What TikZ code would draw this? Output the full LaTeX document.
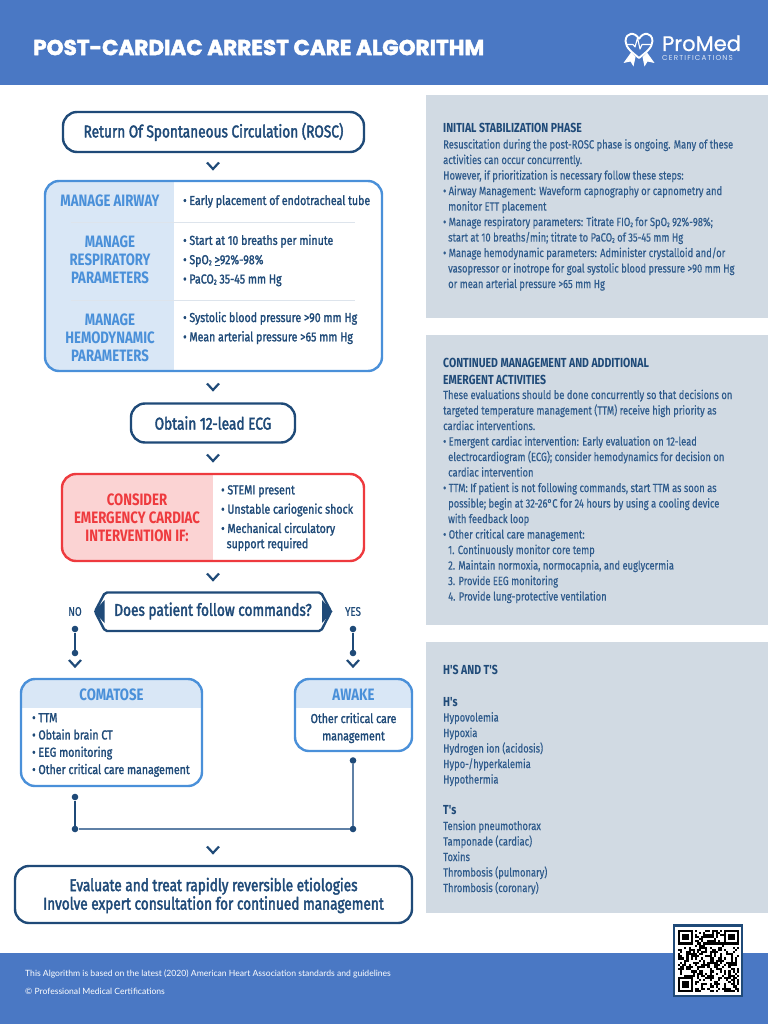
\documentclass[tikz,border=0pt]{standalone}
\usepackage{fontspec}
\setmainfont{Fira Sans}
\newfontfamily\condfam[FakeStretch=0.815,FakeBold=1.6]{Fira Sans}
\newfontfamily\bigfam[FakeStretch=0.8,FakeBold=2.2]{Fira Sans}
\newfontfamily\bodyfam[FakeStretch=0.78,FakeBold=0.4]{Fira Sans}
\newfontfamily\headfam[FakeStretch=0.8]{Fira Sans}
\newfontfamily\titlefam[BoldFeatures={FakeBold=2.2}]{Poppins}
\newfontfamily\logofam[FakeBold=0.8]{Poppins}
\newfontfamily\logols[LetterSpace=16]{Poppins}
\newfontfamily\footfam{Lato}
\definecolor{hdr}{HTML}{4A78C4}
\definecolor{navy}{HTML}{1F4A78}
\definecolor{sky}{HTML}{4A90D9}
\definecolor{skyfill}{HTML}{D9E7F6}
\definecolor{red1}{HTML}{EE3A3E}
\definecolor{redfill}{HTML}{FBD3D3}
\definecolor{panel}{HTML}{D1DAE3}
\definecolor{bodytx}{HTML}{2F5B8C}
\definecolor{divid}{HTML}{DDE4EC}
\definecolor{linkc}{HTML}{5F80A6}
\newcommand{\lowsub}[1]{\raisebox{-0.15ex}{\scalebox{0.55}{#1}}}
\newcommand{\chevat}[3]{\coordinate (#1) at (#2,#3);
  \draw[chevline] ([shift={(-6,-3.5)}]#1) -- ([shift={(0,3)}]#1) -- ([shift={(6,-3.5)}]#1);}
\tikzset{x=1pt,y=-1pt,
  chevline/.style={navy,line width=2.2pt,line join=miter},
  flowbox/.style={draw=navy,line width=2.4pt,fill=white,rounded corners=14pt,inner sep=0pt},
  frame/.style={line width=2.4pt,rounded corners=14pt,inner sep=0pt},
  bigtx/.style={text=navy,inner sep=0pt,align=center,font=\bigfam\fontsize{17.05}{18.5}\selectfont},
  itemtx/.style={text=navy,inner sep=0pt,anchor=west,align=left,font=\condfam\fontsize{13}{19.3}\selectfont},
  itemty/.style={text=navy,inner sep=0pt,anchor=west,align=left,font=\condfam\fontsize{13}{17.3}\selectfont},
  capsky/.style={text=sky,inner sep=0pt,align=center,font=\headfam\bfseries\fontsize{16.5}{18}\selectfont},
  capred/.style={text=red1,inner sep=0pt,align=center,font=\headfam\bfseries\fontsize{16.5}{18}\selectfont},
  ptxt/.style={text=bodytx,inner sep=0pt,anchor=north west,align=left,font=\bodyfam\fontsize{12}{15.5}\selectfont},
  phead/.style={text=navy,inner sep=0pt,anchor=west,align=left,font=\headfam\bfseries\fontsize{13.1}{17}\selectfont},
  dot/.style={circle,fill=navy,inner sep=0pt,minimum size=6.6pt},
  linkline/.style={line width=1.5pt,draw=navy},
  linkpale/.style={line width=1.6pt,draw=linkc},
  ansr/.style={text=navy,inner sep=0pt,font=\bodyfam\fontsize{12.5}{14}\selectfont},
}
\begin{document}
\begin{tikzpicture}
\useasboundingbox (0,0) rectangle (768,1024);
\fill[white] (0,0) rectangle (768,1024);
% header and footer
\fill[hdr] (0,0) rectangle (768,85);
\fill[hdr] (0,953) rectangle (768,1024);
\node[text=white,inner sep=0pt,anchor=west,font=\titlefam\bfseries\fontsize{21.55}{23}\selectfont] (title) at (33,47.5) {POST-CARDIAC ARREST CARE ALGORITHM};
% logo
\draw[white,line width=1.9pt,line join=round]
  (639,39) .. controls (635,31.5) and (626,32) .. (625.5,41)
  .. controls (625.5,48) and (633,53) .. (639,58)
  .. controls (645,53) and (652.5,48) .. (652.5,41)
  .. controls (652,32) and (643,31.5) .. (639,39);
\draw[white,line width=1.1pt,line join=round] (626,44.5) -- (633,44.5) -- (635,47) -- (637.5,38) -- (640,49) -- (642,44.5) -- (651,44.5);
\fill[white] (631,52.5) -- (635.5,57) -- (633.5,66.5) -- (630.5,61.5) -- (623.5,63) -- cycle;
\fill[white] (647,52.5) -- (642.5,57) -- (644.5,66.5) -- (647.5,61.5) -- (654.5,63) -- cycle;
\node[text=white,inner sep=0pt,anchor=base west,font=\logofam\fontsize{21}{22}\selectfont] (promed) at (662,51) {ProMed};
\node[text=white!82!hdr,inner sep=0pt,anchor=base west,font=\logols\fontsize{7.2}{8}\selectfont] (certif) at (662,60.5) {CERTIFICATIONS};
% right panels
\fill[panel] (426,95) rectangle (768,318);
\fill[panel] (426,335) rectangle (768,625);
\fill[panel] (426,642) rectangle (768,913);
\node[phead] (p1h) at (443,128) {INITIAL STABILIZATION PHASE};
\node[ptxt] (p1b) at (443,139) {Resuscitation during the post-ROSC phase is ongoing. Many of these\\
activities can occur concurrently.\\
However, if prioritization is necessary follow these steps:\\
• Airway Management: Waveform capnography or capnometry and\\
\hspace*{5pt}monitor ETT placement\\
• Manage respiratory parameters: Titrate FIO\lowsub{2} for SpO\lowsub{2} 92\%-98\%;\\
\hspace*{5pt}start at 10 breaths/min; titrate to PaCO\lowsub{2} of 35-45 mm Hg\\
• Manage hemodynamic parameters: Administer crystalloid and/or\\
\hspace*{5pt}vasopressor or inotrope for goal systolic blood pressure >90 mm Hg\\
\hspace*{5pt}or mean arterial pressure >65 mm Hg};
\node[phead,anchor=north west] (p2h) at (443,357.5) {CONTINUED MANAGEMENT AND ADDITIONAL\\EMERGENT ACTIVITIES};
\node[ptxt] (p2b) at (443,389.5) {These evaluations should be done concurrently so that decisions on\\
targeted temperature management (TTM) receive high priority as\\
cardiac interventions.\\
• Emergent cardiac intervention: Early evaluation on 12-lead\\
\hspace*{5pt}electrocardiogram (ECG); consider hemodynamics for decision on\\
\hspace*{5pt}cardiac intervention\\
• TTM: If patient is not following commands, start TTM as soon as\\
\hspace*{5pt}possible; begin at 32-26°C for 24 hours by using a cooling device\\
\hspace*{5pt}with feedback loop\\
• Other critical care management:\\
\hspace*{5pt}1. Continuously monitor core temp\\
\hspace*{5pt}2. Maintain normoxia, normocapnia, and euglycermia\\
\hspace*{5pt}3. Provide EEG monitoring\\
\hspace*{5pt}4. Provide lung-protective ventilation};
\node[phead] (p3h) at (443,670) {H'S AND T'S};
\node[phead] (p3a) at (443,702) {H's};
\node[ptxt] (p3b) at (443,712) {Hypovolemia\\Hypoxia\\Hydrogen ion (acidosis)\\Hypo-/hyperkalemia\\Hypothermia};
\node[phead] (p3c) at (443,810) {T's};
\node[ptxt] (p3d) at (443,820.5) {Tension pneumothorax\\Tamponade (cardiac)\\Toxins\\Thrombosis (pulmonary)\\Thrombosis (coronary)};
% ROSC
\node[flowbox,minimum width=301pt,minimum height=40pt] (rosc) at (213.5,132) {};
\node[bigtx] (rosct) at (rosc.center) {Return Of Spontaneous Circulation (ROSC)};
\chevat{ch1}{213}{166}
% manage
\begin{scope}
\clip[rounded corners=14pt] (45,181) rectangle (382,371);
\fill[skyfill] (45,181) rectangle (174,371);
\end{scope}
\node[frame,draw=sky,minimum width=337pt,minimum height=190pt] (manage) at (213.5,276) {};
\draw[divid,line width=1pt] (71,222.5) -- (355,222.5);
\draw[divid,line width=1pt] (71,300.5) -- (355,300.5);
\node[capsky] (m1) at (110,201) {MANAGE AIRWAY};
\node[capsky] (m2) at (110,260) {MANAGE\\RESPIRATORY\\PARAMETERS};
\node[capsky] (m3) at (110,338) {MANAGE\\HEMODYNAMIC\\PARAMETERS};
\node[itemtx] (i1) at (183,201.5) {• Early placement of endotracheal tube};
\node[itemtx] (i2) at (183,260.5) {• Start at 10 breaths per minute\\• SpO\lowsub{2} \underline{>}92\%-98\%\\• PaCO\lowsub{2} 35-45 mm Hg};
\node[itemtx] (i3) at (183,328) {• Systolic blood pressure >90 mm Hg\\• Mean arterial pressure >65 mm Hg};
\chevat{ch2}{213}{387}
% ECG
\node[flowbox,minimum width=164pt,minimum height=39pt] (ecg) at (213,423) {};
\node[bigtx] (ecgt) at (ecg.center) {Obtain 12-lead ECG};
\chevat{ch3}{213}{458}
% consider
\begin{scope}
\clip[rounded corners=14pt] (62,474) rectangle (364,561);
\fill[redfill] (62,474) rectangle (213,561);
\end{scope}
\node[frame,draw=red1,minimum width=302pt,minimum height=87pt] (cons) at (213,517.5) {};
\node[capred] (conct) at (137,517.5) {CONSIDER\\EMERGENCY CARDIAC\\INTERVENTION IF:};
\node[itemtx] (cons1) at (221,510.5) {• STEMI present\\• Unstable cariogenic shock\\• Mechanical circulatory};
\node[itemtx] (cons2) at (226.5,544.5) {support required};
\chevat{ch4}{213}{577}
% decision
\node[bigtx] (dec) at (213,611) {Does patient follow commands?};
\draw[navy,line width=2.4pt,line join=round,rounded corners=2pt] (105,592.5) -- (321,592.5) -- (331,611.5) -- (321,631) -- (105,631) -- (95,611.5) -- cycle;
\fill[navy] (94,611.5) -- (104.5,600) -- (104.5,623) -- cycle;
\fill[navy] (332.5,611.5) -- (322,600) -- (322,623) -- cycle;
\node[ansr] (no) at (75,611.5) {NO};
\node[ansr] (yes) at (353,611.5) {YES};
\node[dot] (n1) at (75,629) {};
\node[dot] (n2) at (75,653) {};
\node[dot] (y1) at (353,629) {};
\node[dot] (y2) at (353,653) {};
\draw[linkline] (n1) -- (n2);
\draw[linkline] (y1) -- (y2);
\chevat{ch5}{75}{663.5}
\chevat{ch6}{353}{663.5}
% comatose
\begin{scope}
\clip[rounded corners=14pt] (21,679) rectangle (202,786);
\fill[skyfill] (21,679) rectangle (202,708);
\end{scope}
\node[frame,draw=sky,minimum width=181pt,minimum height=107pt] (com) at (111.5,732.5) {};
\node[capsky] (comt) at (111.5,695) {COMATOSE};
\node[itemty] (comi) at (32,745) {• TTM\\• Obtain brain CT\\• EEG monitoring\\• Other critical care management};
% awake
\begin{scope}
\clip[rounded corners=14pt] (295,679) rectangle (412,751);
\fill[skyfill] (295,679) rectangle (412,708);
\end{scope}
\node[frame,draw=sky,minimum width=117pt,minimum height=72pt] (awk) at (353.5,715) {};
\node[capsky] (awkt) at (353.5,695) {AWAKE};
\node[itemty,anchor=center,align=center] (awki) at (353.5,728) {Other critical care\\management};
% join
\node[dot] (j1) at (75,797) {};
\node[dot] (j2) at (75,829) {};
\node[dot] (j3) at (353,760.5) {};
\node[dot] (j4) at (353,829) {};
\draw[linkline] (j1) -- (j2);
\draw[linkpale] (j3) -- (j4);
\draw[linkpale] (j2) -- (j4);
\chevat{ch7}{213}{850}
% final
\node[flowbox,minimum width=397pt,minimum height=57pt] (final) at (213.5,894.5) {};
\node[bigtx] (finalt) at (213.5,895.5) {Evaluate and treat rapidly reversible etiologies\\Involve expert consultation for continued management};
% footer text
\node[text=white,inner sep=0pt,anchor=west,font=\footfam\fontsize{8.6}{10}\selectfont] (f1) at (25,974) {This Algorithm is based on the latest (2020) American Heart Association standards and guidelines};
\node[text=white,inner sep=0pt,anchor=west,font=\footfam\fontsize{8.6}{10}\selectfont] (f2) at (25,991) {© Professional Medical Certifications};
% QR
\fill[navy] (672.5,924) rectangle (743,997);
\fill[white] (675,926.5) rectangle (740.5,994.5);
\begin{scope}[shift={(678,929.5)}]
\pgfmathsetseed{4711}
\foreach \r in {0,...,28}{\foreach \c in {0,...,28}{
  \pgfmathparse{rnd<0.52 ? 1 : 0}
  \ifnum\pgfmathresult=1 \fill[black] (\c*2.1,\r*2.15) rectangle ++(2.1,2.15);\fi
}}
\foreach \ox/\oy in {0/0,22/0,0/22}{
  \fill[white] (\ox*2.1-0.01,\oy*2.15) rectangle ++(7*2.1+2.1,7*2.15+2.15);
  \fill[black] (\ox*2.1,\oy*2.15) rectangle ++(7*2.1,7*2.15);
  \fill[white] (\ox*2.1+2.1,\oy*2.15+2.15) rectangle ++(5*2.1,5*2.15);
  \fill[black] (\ox*2.1+4.2,\oy*2.15+4.3) rectangle ++(3*2.1,3*2.15);
}
\end{scope}
\end{tikzpicture}
\end{document}
